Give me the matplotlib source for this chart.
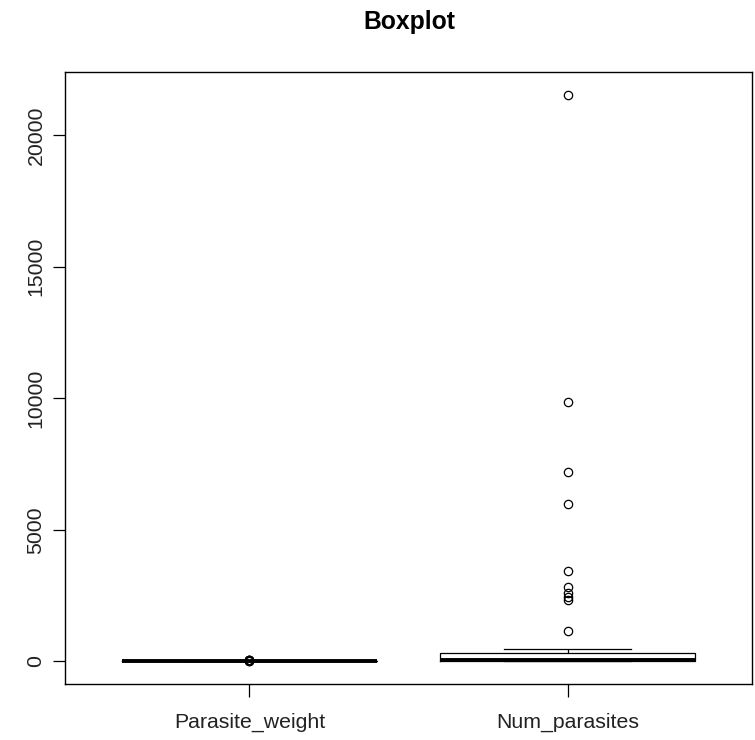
import matplotlib
matplotlib.use("Agg")
import matplotlib.pyplot as plt

plt.rcParams['font.family'] = ['Liberation Sans', 'DejaVu Sans']

# summary statistics of the two variables
labels = ['Parasite_weight', 'Num_parasites']
whislo = [0.0, 0.0]
q1 = [1.2, 10.0]
med = [3.0, 60.0]
q3 = [6.5, 320.0]
whishi = [14.0, 467.0]
fliers = [
    [18.0, 25.0, 33.0, 41.0, 52.0, 64.0],
    [1160, 2330, 2450, 2580, 2820, 3430, 5980, 7180, 9870, 21540],
]
yticks = [0, 5000, 10000, 15000, 20000]

stats = []
for i, name in enumerate(labels):
    stats.append(dict(label=name, whislo=whislo[i], q1=q1[i], med=med[i],
                      q3=q3[i], whishi=whishi[i], fliers=fliers[i]))

fig = plt.figure(figsize=(7.55, 7.40), dpi=100)
ax = fig.add_axes([65 / 755, 56 / 740, 687 / 755, 612 / 740])

lw = 0.9
ax.bxp(stats, positions=[1, 2], widths=0.8, capwidths=0.4,
       boxprops=dict(color='black', linewidth=lw),
       medianprops=dict(color='black', linewidth=2.8, solid_capstyle='butt'),
       whiskerprops=dict(color='black', linewidth=lw, linestyle='--'),
       capprops=dict(color='black', linewidth=lw),
       flierprops=dict(marker='o', markerfacecolor='none', markeredgecolor='black',
                       markersize=6, markeredgewidth=lw))

# axis limits like R: 4% padding on both axes
lo = min(min(whislo), min(min(f) for f in fliers))
hi = max(max(whishi), max(max(f) for f in fliers))
pad = 0.04 * (hi - lo)
ax.set_ylim(lo - pad, hi + pad)
ax.set_xlim(0.5 - 0.08, 2.5 + 0.08)

ax.set_xticks([1, 2])
ax.set_xticklabels(labels)
ax.set_yticks(yticks)
ax.set_yticklabels([str(v) for v in yticks], rotation=90, va='center')

ax.tick_params(axis='both', direction='out', length=9, width=lw,
               labelsize=15.3, colors='black', labelcolor='#222222')
ax.tick_params(axis='x', pad=12)
ax.tick_params(axis='y', pad=5)

for s in ax.spines.values():
    s.set_linewidth(1.0)
    s.set_color('black')

fig.text(409 / 755, 1 - 29 / 740, 'Boxplot', ha='center', va='baseline',
         fontsize=17.8, fontweight='bold')

fig.savefig('out.png', dpi=100, facecolor='white')
